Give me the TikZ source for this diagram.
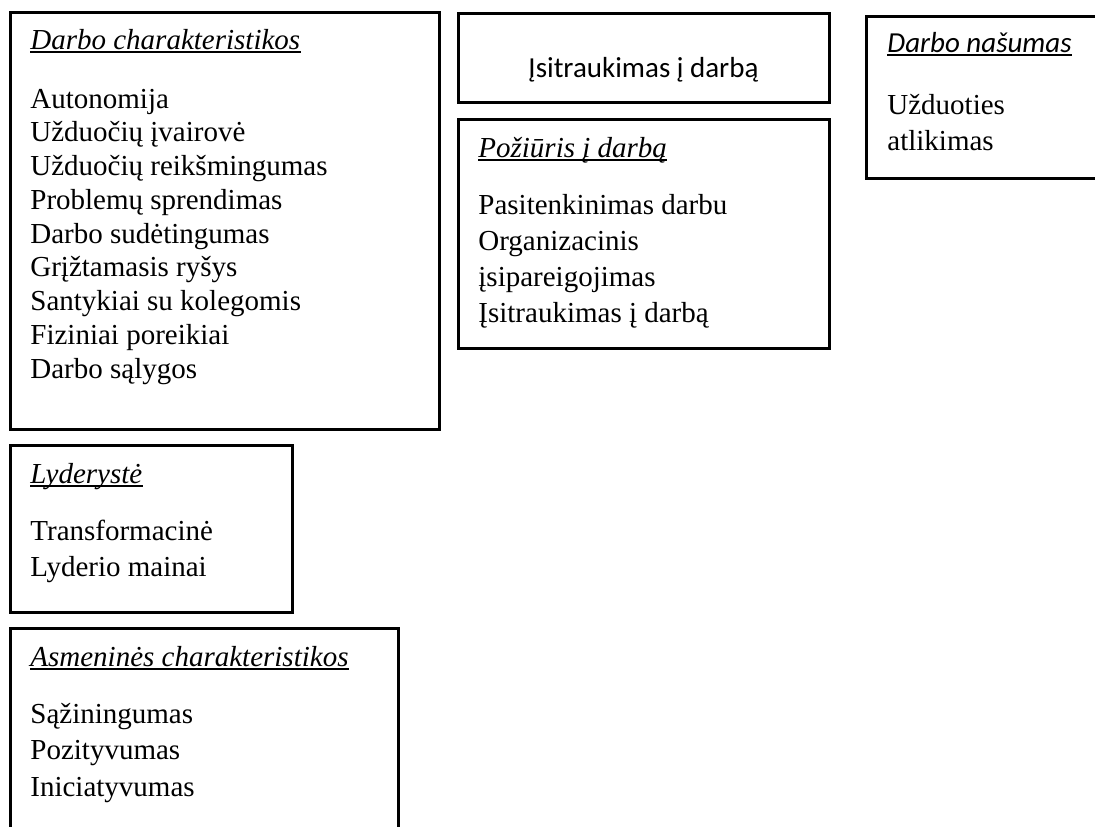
\documentclass[tikz,border=0pt]{standalone}
\usepackage{fontspec}
\setmainfont{Liberation Serif}
\newfontfamily\carlito{Carlito}
\usetikzlibrary{fit}

\begin{document}
\begin{tikzpicture}[
  x=0.5pt, y=-0.5pt,
  box/.style={draw, line width=1.5pt, inner sep=0pt, outer sep=0pt},
  ttl/.style={inner sep=0pt, anchor=base west, font=\fontsize{14.5}{17}\selectfont\itshape},
  sansttl/.style={ttl, font=\fontsize{14.5}{17}\selectfont\carlito\itshape},
  itm/.style={inner sep=0pt, anchor=base west, font=\fontsize{14.5}{17}\selectfont}
]
\clip (0,0) rectangle (1095,826);

% --- Boxes ---
\node[box, fit={(10,12) (439,429)}]   (dc) {};
\node[box, fit={(458,13) (829,102)}]  (ij) {};
\node[box, fit={(458,119) (829,348)}] (pz) {};
\node[box, fit={(866,16) (1110,178)}] (dn) {};
\node[box, fit={(10,445) (292,612)}]  (ly) {};
\node[box, fit={(10,628) (398,850)}]  (as) {};

% --- Titles ---
\node[ttl]     (dct) at ([shift={(20,37)}]dc.north west) {Darbo charakteristikos};
\node[ttl]     (pzt) at ([shift={(20,38)}]pz.north west) {Požiūris į darbą};
\node[sansttl] (dnt) at ([shift={(21,36)}]dn.north west) {Darbo našumas};
\node[ttl]     (lyt) at ([shift={(20,38)}]ly.north west) {Lyderystė};
\node[ttl]     (ast) at ([shift={(20,38)}]as.north west) {Asmeninės charakteristikos};

\foreach \t in {dct,pzt,dnt,lyt,ast}
  \draw[line width=0.8pt] ([yshift=-1.6pt]\t.base west) -- ([yshift=-1.6pt]\t.base east);

\node[inner sep=0pt, anchor=base, font=\fontsize{14.5}{17}\selectfont\carlito]
  (ijt) at ([shift={(0,19.5)}]ij.center) {Įsitraukimas į darbą};

% --- Lists ---
\foreach \s [count=\i] in {Autonomija, Užduočių įvairovė, Užduočių reikšmingumas,
    Problemų sprendimas, Darbo sudėtingumas, Grįžtamasis ryšys,
    Santykiai su kolegomis, Fiziniai poreikiai, Darbo sąlygos}
  \node[itm] (dc\i) at ([shift={(20,62.25+33.75*\i)}]dc.north west) {\s};

\foreach \s [count=\i] in {Pasitenkinimas darbu, Organizacinis, įsipareigojimas, Įsitraukimas į darbą}
  \node[itm] (pz\i) at ([shift={(20,59+36*\i)}]pz.north west) {\s};

\foreach \s [count=\i] in {Užduoties, atlikimas}
  \node[itm] (dn\i) at ([shift={(21,62+36*\i)}]dn.north west) {\s};

\foreach \s [count=\i] in {Transformacinė, Lyderio mainai}
  \node[itm] (ly\i) at ([shift={(20,58.5+36.5*\i)}]ly.north west) {\s};

\foreach \s [count=\i] in {Sąžiningumas, Pozityvumas, Iniciatyvumas}
  \node[itm] (as\i) at ([shift={(20,58.5+36.5*\i)}]as.north west) {\s};

\end{tikzpicture}
\end{document}
